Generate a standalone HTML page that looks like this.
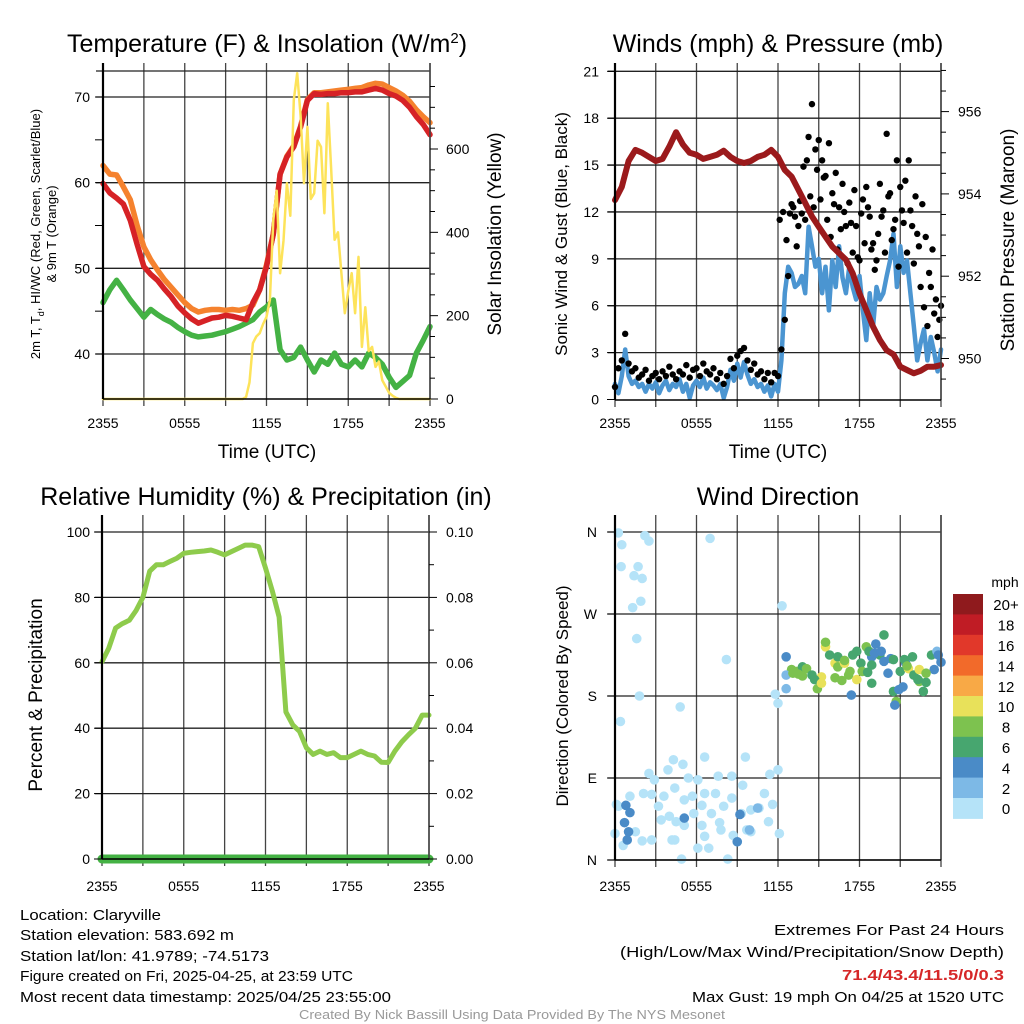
<!DOCTYPE html>
<html><head><meta charset="utf-8"><style>
html,body{margin:0;padding:0;background:#fff;}
svg{display:block;font-family:"Liberation Sans",Arial,sans-serif;}
</style></head><body>
<svg id="chart" width="1024" height="1024" viewBox="0 0 1024 1024" xmlns="http://www.w3.org/2000/svg">
<rect width="1024" height="1024" fill="#fff"/>
<g id="bg"></g>
<g id="marks"></g>
<g id="axes"></g>
<text x="267" y="52" font-size="25" text-anchor="middle">Temperature (F) &amp; Insolation (W/m<tspan dy="-9" font-size="15">2</tspan><tspan dy="9">)</tspan></text>
<text x="778" y="52" font-size="25" text-anchor="middle">Winds (mph) &amp; Pressure (mb)</text>
<text x="266" y="505" font-size="25" text-anchor="middle">Relative Humidity (%) &amp; Precipitation (in)</text>
<text x="778" y="505" font-size="25" text-anchor="middle">Wind Direction</text>
<text x="267" y="458" font-size="19" text-anchor="middle">Time (UTC)</text>
<text x="778" y="458" font-size="19" text-anchor="middle">Time (UTC)</text>
<text transform="translate(40,234) rotate(-90)" font-size="13" text-anchor="middle">2m T, T<tspan dy="4" font-size="9">d</tspan><tspan dy="-4">, HI/WC (Red, Green, Scarlet/Blue)</tspan></text>
<text transform="translate(56,234) rotate(-90)" font-size="13" text-anchor="middle">&amp; 9m T (Orange)</text>
<text transform="translate(501,234) rotate(-90)" font-size="19" text-anchor="middle">Solar Insolation (Yellow)</text>
<text transform="translate(567,234) rotate(-90)" font-size="17" text-anchor="middle">Sonic Wind &amp; Gust (Blue, Black)</text>
<text transform="translate(1014,240) rotate(-90)" font-size="19" text-anchor="middle">Station Pressure (Maroon)</text>
<text transform="translate(42,695) rotate(-90)" font-size="19" text-anchor="middle">Percent &amp; Precipitation</text>
<text transform="translate(568,696) rotate(-90)" font-size="17" text-anchor="middle">Direction (Colored By Speed)</text>
<g font-size="14.5">
<text x="20" y="920" textLength="141" lengthAdjust="spacingAndGlyphs">Location: Claryville</text>
<text x="20" y="940" textLength="214" lengthAdjust="spacingAndGlyphs">Station elevation: 583.692 m</text>
<text x="20" y="961" textLength="249" lengthAdjust="spacingAndGlyphs">Station lat/lon: 41.9789; -74.5173</text>
<text x="20" y="981" textLength="333" lengthAdjust="spacingAndGlyphs">Figure created on Fri, 2025-04-25, at 23:59 UTC</text>
<text x="20" y="1002" textLength="371" lengthAdjust="spacingAndGlyphs">Most recent data timestamp: 2025/04/25 23:55:00</text>
</g>
<g font-size="15" text-anchor="end">
<text x="1004" y="935" textLength="230" lengthAdjust="spacingAndGlyphs">Extremes For Past 24 Hours</text>
<text x="1004" y="957" textLength="384" lengthAdjust="spacingAndGlyphs">(High/Low/Max Wind/Precipitation/Snow Depth)</text>
<text x="1004" y="980" fill="#d62728" font-weight="bold" textLength="162" lengthAdjust="spacingAndGlyphs">71.4/43.4/11.5/0/0.3</text>
<text x="1004" y="1002" textLength="312" lengthAdjust="spacingAndGlyphs">Max Gust: 19 mph On 04/25 at 1520 UTC</text>
</g>
<text x="512" y="1019" font-size="12.5" fill="#999" text-anchor="middle" textLength="426" lengthAdjust="spacingAndGlyphs">Created By Nick Bassill Using Data Provided By The NYS Mesonet</text>
</svg>
<script>
// ---- data ----
const timeLabels = ["2355","0555","1155","1755","2355"];
const temp2m = [59.9,58.8,58.2,57.5,55.6,52.8,50.2,49.3,48.6,47.6,46.7,45.6,44.8,44.1,43.6,43.9,44.2,44.3,44.5,44.4,44.2,44.0,46.0,47.5,50.2,54.0,61.0,63.0,64.2,66.5,69.6,70.4,70.3,70.4,70.4,70.5,70.5,70.6,70.6,70.8,71.0,70.8,70.4,70.1,69.6,68.8,67.7,66.8,65.6];
const temp9m = [62.0,61.0,60.9,59.5,58.0,55.0,52.5,51.0,49.8,48.7,47.8,46.9,46.0,45.3,44.9,45.1,45.2,45.2,45.1,45.2,45.1,45.3,45.7,47.5,50.4,54.0,61.0,63.1,64.3,66.6,69.7,70.5,70.5,70.6,70.7,70.8,70.9,71.0,71.1,71.4,71.6,71.5,71.1,70.7,70.2,69.5,68.5,67.7,67.0];
const dewpoint = [46.0,47.5,48.6,47.5,46.3,45.3,44.3,45.2,44.6,44.1,43.7,43.1,42.6,42.2,42.0,42.1,42.2,42.4,42.6,42.9,43.2,43.6,44.0,44.9,45.5,46.3,40.5,39.3,39.6,40.8,39.3,37.9,39.3,38.8,40.1,38.8,38.5,39.3,38.5,40.1,39.6,38.8,37.3,36.1,36.8,37.5,40.1,41.6,43.2];
const solar = [0,0,0,0,0,0,0,0,0,0,0,0,0,0,0,0,0,0,0,0,0,0,0,0,0,0,0,0,0,0,0,0,0,0,0,0,0,0,0,0,0,0,5,40,134,150,158,180,197,238,430,500,302,380,518,440,718,782,680,518,653,480,494,620,605,446,710,550,382,400,302,206,260,302,206,341,125,220,115,125,77,90,45,30,15,8,3,0,0,0,0,0,0,0,0,0,0];
const rh = [60.3,64.5,70.6,72,73,76,80,88,90,90,91,92,93.5,93.8,94,94.2,94.5,93.8,93,94,95,96,96,95.5,89,82,74,45,41,39,34,32,33,32,32.5,31,31,32,33,32,31.5,29.6,29.5,33,35.8,38,40,44,44];
const precip = [0,0,0,0,0,0,0,0,0,0,0,0,0,0,0,0,0,0,0,0,0,0,0,0,0,0,0,0,0,0,0,0,0,0,0,0,0,0,0,0,0,0,0,0,0,0,0,0,0];
const pressure = [953.85,954.17,954.8,955.07,955.0,954.9,954.8,954.85,955.15,955.5,955.2,955.0,954.95,954.85,954.9,954.95,955.05,954.9,954.8,954.75,954.8,954.9,954.95,955.07,954.9,954.58,954.42,954.1,953.78,953.45,953.2,952.96,952.72,952.56,952.4,952.07,951.58,951.18,950.77,950.45,950.2,950.1,949.8,949.72,949.64,949.7,949.8,949.8,949.84];
const wind = [1.0,0.4,1.5,3.2,1.5,1.0,1.2,0.8,1.0,0.5,1.0,0.7,1.1,0.4,0.9,1.2,0.6,1.0,0.8,1.3,0.5,1.0,0.1,0.9,1.2,0.8,1.4,0.7,1.1,0.9,0.6,1.0,0.1,0.8,1.9,1.2,2.3,1.4,2.4,1.6,1.0,1.3,0.8,1.0,0.5,0.9,0.2,1.0,0.5,2.5,6.8,8.5,8.1,7.2,7.4,7.9,6.8,11.05,9.8,8.5,9.0,6.8,8.5,5.7,8.9,7.2,9.8,7.8,6.8,8.5,7.2,6.4,7.9,5.7,3.8,6.8,4.7,7.2,6.4,6.8,7.9,8.9,10.6,7.2,9.8,8.1,8.9,6.8,4.7,2.5,3.6,4.5,2.5,4.0,3.0,1.8,3.2];
const gust = [0.8,2.0,2.5,4.2,2.3,1.8,2.0,1.4,1.6,1.9,1.2,1.5,1.7,1.3,1.8,1.5,2.1,1.6,1.3,1.8,1.6,2.2,1.4,1.9,2.0,1.5,2.3,1.8,1.6,2.0,1.3,1.7,1.0,1.5,2.6,2.0,2.8,3.1,3.3,2.5,1.9,2.3,1.6,1.8,1.3,1.7,1.1,1.7,1.5,3.2,5.1,7.9,12.5,11.7,11.1,11.9,11.5,16.8,18.9,16.0,16.6,15.3,14.3,16.4,13.2,14.5,12.3,13.8,11.1,12.6,9.4,11.1,8.9,12.8,13.6,11.7,10.0,8.9,13.8,12.1,17.0,13.2,10.9,15.3,13.6,11.3,9.4,12.1,8.7,10.6,7.2,5.9,4.7,7.2,5.5,4.0,6.0];
const gustLate = [11.5,12.0,10.2,11.9,12.3,9.8,12.7,14.9,15.3,13.0,12.3,14.7,12.8,14.2,11.5,10.4,12.5,9.6,10.9,12.0,8.7,11.3,13.4,9.1,11.9,10.0,12.3,9.6,8.3,10.6,11.7,9.4,13.0,10.2,11.5,8.5,12.1,14.0,15.3,11.1,13.0,9.8,12.5,10.4,8.1,9.6,6.4,5.1];
const dirHour = [0.25,2.2,2.5,0.5,7,0.45,1.7,1.4,2,1.3,1.9,1.6,8.2,12.3,1.8,4.8,0.4,11.8,12,6.6,4.3,5,3.9,2.5,2.9,5.4,6.1,7.6,8.6,9.6,9.4,11.4,12,0.1,0.25,1.1,2.1,2.7,3.2,3.6,4.4,5.1,5.7,6.4,6.6,7.4,8,8.6,9.3,10,10.6,11,11.6,3.4,4,4.5,5.1,5.8,6.4,7.1,7.7,8.7,9.7,10,11.3,12.1,0,1.5,2,2.7,4.2,4.4,6.6,7.8,6.1,6.9,4.9,8.3,0.6,9,0.8,1.1,0.7,1,0.9,5.1,9.2,9.9,10.5,9,
12.6,13,13.4,13.8,14.1,12.6,12.6,14.5,14.9,15.2,15.5,15.5,15.8,16.2,16.4,16.9,17.2,17.5,17.8,17.4,18.1,18.5,18.9,18.9,19.2,19.5,19.8,20.1,20.3,20.5,20.7,20.6,20.9,21,21.2,21.4,21.6,21.9,22,22.4,22.4,22.7,22.9,23.3,23.5,23.7,24,23.8,16.4,16.9,17.8,18.7,19.1,19.6,19.8,20.5,21.3,21.5,22.3,22.9,13.8,13.5,13.1,14.7,15.2,16.2,16.7,17.3,18.2,18.6,18.9];
const dirDeg = [359,356,350,346,353,322,322,312,309,277,284,243,220,279,180,168,152,182,172,113,110,105,99,95,88,90,88,92,92,113,82,94,99,61,59,70,73,72,59,70,79,66,70,60,73,73,59,68,51,55,57,73,61,44,48,42,38,51,38,51,41,27,33,31,42,29,29,31,21,22,22,22,26,33,13,13,1,1,16,20,60,52,41,31,22,46,50,33,57,20,
223,209,207,212,210,203,188,203,188,201,234,239,225,216,212,216,203,225,198,181,216,234,223,194,237,225,247,205,221,185,174,170,187,207,190,216,210,223,203,209,196,185,195,225,209,229,217,225,223,219,229,229,227,229,218,220,220,213,198,205,202,204,205,198,194,200,197,207,207,206,214];
const dirSpeed = [1,1,1,1,1,1,1,1,1,1,1,1,1,1,1,1,1,1,1,1,1,1,1,1,1,1,1,1,1,1,1,1,1,1,1,1,1,1,1,1,1,1,1,1,1,1,1,1,1,1,1,1,1,1,1,1,1,1,1,1,1,1,1,1,1,1,1,1,1,1,1,1,1,1,1,1,1,1,1,1,4.5,4.5,4.5,4.5,4.5,4.5,4.5,3,3,5,
5,8,8,6,8,3,3,7,8,10,10,8,6,10,8,10,8,7,10,4,6,8,5,6,4,7,6,4,4,6,8,4,5,6,4,5,10,6,6,10,8,6,6,6,4,2,4,4,6,8,6,6,4,4,4,6,6,8,6,8,8,8,8,6,10,8,8,8,8,6,6];
const speedBins = ["0","2","4","6","8","10","12","14","16","18","20+"];
const speedColors = ["#b5e3f8","#7db9e6","#4a8bc7","#47a66f","#7dc24f","#e8e15a","#f8a946","#f26a2a","#e1382a","#c01c25","#8f1a1d"];

// ---- helpers ----
const NS="http://www.w3.org/2000/svg";
function mk(tag,attrs,parent){const e=document.createElementNS(NS,tag);for(const k in attrs)e.setAttribute(k,attrs[k]);parent.appendChild(e);return e;}
const bg=document.getElementById('bg'),marks=document.getElementById('marks'),axes=document.getElementById('axes');
function lin(d0,d1,r0,r1){return v=>r0+(v-d0)*(r1-r0)/(d1-d0);}

const P1={x0:103,x1:430,top:70,bot:399}, P2={x0:615,x1:941,top:70,bot:400}, P3={x0:102,x1:429,top:522,bot:859}, P4={x0:615,x1:941,top:522,bot:860};
const x1s=lin(0,24,P1.x0,P1.x1), x2s=lin(0,24,P2.x0,P2.x1), x3s=lin(0,24,P3.x0,P3.x1), x4s=lin(0,24,P4.x0,P4.x1);
const yT=lin(40,70,354,97), yS=lin(0,600,399,149), yW=lin(0,21,399.5,71.3), yP=lin(950,956,358.5,111.6), yR=lin(0,100,859,532), yPr=lin(0,0.1,859,532), yD=lin(0,360,860,532);

function frame(P,xs,name,xlabY){
  for(let h=0;h<=24;h+=3){
    const x=xs(h);
    const g=mk('line',{x1:x,y1:P.top-7,x2:x,y2:P.bot+7,stroke:'#444','stroke-width':1.3},bg);
    
    
  }
  const l=mk('line',{x1:P.x0,y1:P.top-7,x2:P.x0,y2:P.bot,stroke:'#000','stroke-width':2.2},axes);
  
  
  const r=mk('line',{x1:P.x1,y1:P.top-7,x2:P.x1,y2:P.bot,stroke:'#444','stroke-width':1.6},axes);
  
  
  const b=mk('line',{x1:P.x0,y1:P.bot,x2:P.x1,y2:P.bot,stroke:'#000','stroke-width':1.5},axes);
  
  
  timeLabels.forEach((t,i)=>{
    const tx=mk('text',{x:xs(i*6),y:xlabY,'font-size':14,'text-anchor':'middle'},axes);
    
    
    tx.textContent=t;
  });
}
function hgrid(P,y,name){
  const g=mk('line',{x1:P.x0-7,y1:y,x2:P.x1,y2:y,stroke:'#222','stroke-width':1.3},bg);
  
  
}
function ltick(x,y,label,name,len,anchor,lx){
  const t=mk('line',{x1:x,y1:y,x2:x+len,y2:y,stroke:'#000','stroke-width':1},axes);
  
  
  if(label!==null){
    const tx=mk('text',{x:lx,y:y+5,'font-size':14,'text-anchor':anchor},axes);
    
    
    tx.textContent=label;
  }
}
function line(vals,xs,ys,step,color,w,name,start){
  let d='';
  vals.forEach((v,i)=>{d+=(i?'L':'M')+xs((start||0)+i*step).toFixed(1)+' '+ys(v).toFixed(1);});
  const p=mk('path',{d:d,fill:'none',stroke:color,'stroke-width':w,'stroke-linejoin':'round','stroke-linecap':'round'},marks);
  
  
}

// ---- panel 1 ----
frame(P1,x1s,'temp',428);
hgrid(P1,71,'temp');
[40,50,60,70].forEach(v=>hgrid(P1,yT(v),'temp'));
for(let v=40;v<=70;v+=5) ltick(P1.x0,yT(v),v%10===0?String(v):null,'temp-y',-8,'end',90);
for(let v=0;v<=750;v+=50) ltick(P1.x1,yS(v),v%200===0?String(v):null,'solar-y',v%200===0?8:5,'start',446);
line(dewpoint,x1s,yT,0.5,'#44b244',5.5,'dewpoint-line');
line(temp9m,x1s,yT,0.5,'#f5822e',5.5,'temp-9m-line');
line(temp2m,x1s,yT,0.5,'#d62226',5.5,'temp-2m-line');
line(solar,x1s,yS,0.25,'#fde35a',2.5,'solar-line');

// ---- panel 2 ----
frame(P2,x2s,'wind',428);
for(let v=0;v<=21;v+=3){ if(v>0) hgrid(P2,yW(v),'wind'); ltick(P2.x0,yW(v),String(v),'wind-y',-8,'end',599); }
for(let v=949.5;v<=957.01;v+=0.5) ltick(P2.x1,yP(v),(v%2===0)?String(v):null,'pressure-y',(v%2===0)?8:5,'start',958);
line(wind,x2s,yW,0.25,'#4b95d1',4.5,'wind-speed-line');
gust.forEach((v,i)=>{
  const c=mk('circle',{cx:x2s(i*0.25),cy:yW(v),r:3.2,fill:'#000'},marks);
  
  
});
gustLate.forEach((v,i)=>{
  const c=mk('circle',{cx:x2s(12.125+i*0.25),cy:yW(v),r:3.2,fill:'#000'},marks);
  
  
});
line(pressure,x2s,yP,0.5,'#9b1a1c',6,'pressure-line');

// ---- panel 3 ----
frame(P3,x3s,'rh',891);
for(let v=0;v<=100;v+=20){ if(v>0) hgrid(P3,yR(v),'rh'); ltick(P3.x0,yR(v),String(v),'rh-y',-8,'end',90); }
for(let i=0;i<=10;i++){ const v=i/100; ltick(P3.x1,yPr(v),i%2===0?v.toFixed(2):null,'precip-y',i%2===0?8:5,'start',446); }
line(rh,x3s,yR,0.5,'#8ecb4c',5,'rh-line');
line(precip,x3s,yPr,0.5,'#44b244',9,'precip-line');

// ---- panel 4 ----
frame(P4,x4s,'direction',891);
const dirLabels=["N","E","S","W","N"];
[0,90,180,270,360].forEach((v,i)=>{ hgrid(P4,yD(v),'direction'); ltick(P4.x0,yD(v),dirLabels[i],'direction-y',-8,'end',597); });
function speedColor(s){let k=Math.floor(s/2);if(k>10)k=10;if(k<0)k=0;return speedColors[k];}
dirDeg.forEach((d,i)=>{
  const c=mk('circle',{cx:x4s(dirHour[i]),cy:yD(d),r:4.8,fill:speedColor(dirSpeed[i])},marks);
  
  
});
// colorbar
const cbTop=594,cbH=20.4;
const mph=mk('text',{x:1005,y:587,'font-size':14,'text-anchor':'middle'},axes);


mph.textContent='mph';
for(let i=0;i<speedBins.length;i++){
  const k=speedBins.length-1-i;
  const r=mk('rect',{x:953,y:cbTop+i*cbH,width:30,height:cbH+0.5,fill:speedColors[k]},axes);
  
  
  const t=mk('text',{x:1006,y:cbTop+i*cbH+cbH/2+6,'font-size':15,'text-anchor':'middle'},axes);
  
  
  t.textContent=speedBins[k];
}
</script>
</body></html>
